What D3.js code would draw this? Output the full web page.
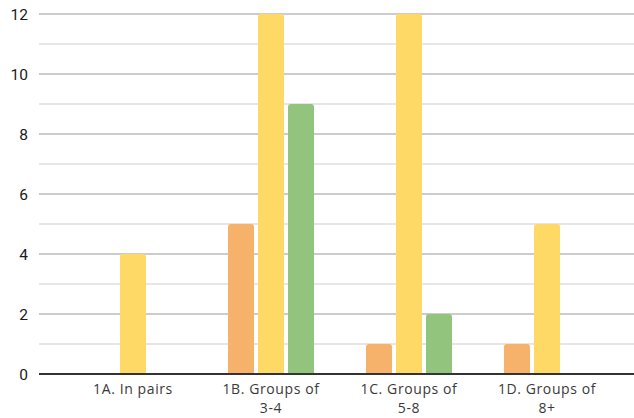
<!DOCTYPE html>
<html><head><meta charset="utf-8">
<script src="https://cdn.jsdelivr.net/npm/d3@7"></script>
<style>html,body{margin:0;padding:0;background:#fff;}svg{display:block;}</style>
</head><body><div id="chart"></div>
<script>
const categories = ["1A. In pairs", "1B. Groups of 3-4", "1C. Groups of 5-8", "1D. Groups of 8+"];
const categoryLines = [["1A. In pairs"], ["1B. Groups of", "3-4"], ["1C. Groups of", "5-8"], ["1D. Groups of", "8+"]];
const seriesNames = ["Orange", "Yellow", "Green"];
const orangeValues = [0, 5, 1, 1];
const yellowValues = [4, 12, 12, 5];
const greenValues = [0, 9, 2, 0];
const yTicks = [0, 2, 4, 6, 8, 10, 12];
const colors = ["#F6B26B", "#FFD966", "#93C47D"];

const W = 634, H = 418;
const svg = d3.select("#chart").append("svg").attr("width", W).attr("height", H);

const plotLeft = 39, plotRight = 634, yTop = 14, yBottom = 374;
const y = d3.scaleLinear().domain([0, 12]).range([yBottom, yTop]);
const x = d3.scaleBand().domain(categories).range([64, 616]).padding(0);
const xs = d3.scaleBand().domain(seriesNames).range([26, 112]).paddingInner(4/30).paddingOuter(0);

// minor gridlines (odd values)
const minor = d3.range(1, 12, 2);
svg.append("g").selectAll("line").data(minor).join("line")
  .attr("x1", plotLeft).attr("x2", plotRight)
  .attr("y1", d => y(d)).attr("y2", d => y(d))
  .attr("stroke", "#e6e6e6").attr("stroke-width", 2);
// major gridlines
svg.append("g").selectAll("line").data(yTicks.filter(d => d > 0)).join("line")
  .attr("x1", plotLeft).attr("x2", plotRight)
  .attr("y1", d => y(d)).attr("y2", d => y(d))
  .attr("stroke", "#cccccc").attr("stroke-width", 2);

// y axis labels
const yAxis = d3.axisLeft(y).tickValues(yTicks).tickSize(0).tickPadding(0);
const ya = svg.append("g").attr("transform", "translate(28,0)").call(yAxis);
ya.select(".domain").remove();
ya.selectAll("text").attr("font-family", "Roboto, 'Liberation Sans', sans-serif")
  .attr("font-size", 15.5).attr("fill", "#1a1a1a").attr("dy", "0.35em");

// bars
const data = [];
categories.forEach((c, i) => {
  [orangeValues, yellowValues, greenValues].forEach((arr, s) => {
    data.push({c, s: seriesNames[s], v: arr[i], color: colors[s]});
  });
});
const r = 3;
function barPath(x0, w, yt, yb) {
  const rr = Math.min(r, (yb - yt));
  return `M${x0},${yb}V${yt + rr}Q${x0},${yt} ${x0 + rr},${yt}H${x0 + w - rr}Q${x0 + w},${yt} ${x0 + w},${yt + rr}V${yb}Z`;
}
svg.append("g").selectAll("path").data(data.filter(d => d.v > 0)).join("path")
  .attr("d", d => barPath(x(d.c) + xs(d.s), xs.bandwidth(), y(d.v), y(0)))
  .attr("fill", d => d.color);

// baseline
svg.append("line").attr("x1", plotLeft).attr("x2", plotRight)
  .attr("y1", y(0)).attr("y2", y(0)).attr("stroke", "#333").attr("stroke-width", 2);

// x labels
const xl = svg.append("g");
categories.forEach((c, i) => {
  const cx = x(c) + x.bandwidth() / 2;
  const t = xl.append("text").attr("x", cx).attr("y", 394)
    .attr("text-anchor", "middle").attr("font-family", "'Open Sans', Lato, sans-serif")
    .attr("font-size", 14).attr("letter-spacing", 0.6).attr("fill", "#3a3a3a");
  categoryLines[i].forEach((ln, j) => {
    t.append("tspan").attr("x", cx).attr("dy", j === 0 ? 0 : 19).text(ln);
  });
});
</script></body></html>
